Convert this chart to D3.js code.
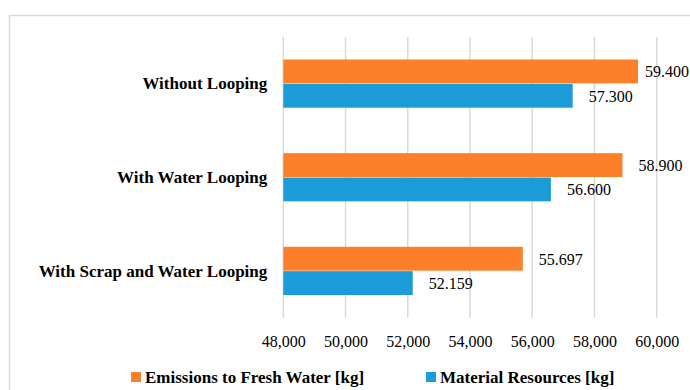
<!DOCTYPE html>
<html>
<head>
<meta charset="utf-8">
<script src="https://cdn.jsdelivr.net/npm/d3@7"></script>
<style>
  html, body { margin: 0; padding: 0; background: #fff; }
  svg { display: block; }
  text { font-family: "Liberation Serif", "Times New Roman", serif; fill: #000; }
</style>
</head>
<body>
<svg id="chart" width="690" height="390"></svg>
<script>
// Scenario categories (top to bottom)
const categories = ["Without Looping", "With Water Looping", "With Scrap and Water Looping"];
// Series names
const seriesNames = ["Emissions to Fresh Water [kg]", "Material Resources [kg]"];
// Values per category, one array per series
const emissionsFreshWater = [59400, 58900, 55697];
const materialResources = [57300, 56600, 52159];
// Axis ticks
const xTicks = [48000, 50000, 52000, 54000, 56000, 58000, 60000];
const colors = ["#fe7f2a", "#1b9bd7"];

const svg = d3.select("#chart");
const plot = { left: 283.3, right: 656.7, top: 37, bottom: 318 };

// Outer chart frame
svg.append("rect")
  .attr("x", 9.5).attr("y", 15.5)
  .attr("width", 720).attr("height", 420)
  .attr("fill", "none").attr("stroke", "#d9d9d9").attr("stroke-width", 1.5);

const x = d3.scaleLinear().domain([48000, 60000]).range([plot.left, plot.right]);
const y = d3.scaleBand().domain(categories).range([plot.top, plot.bottom]).paddingInner(0.48).paddingOuter(0.24);
const ySub = d3.scaleBand().domain(seriesNames).range([0, y.bandwidth()]);

// Vertical gridlines
svg.append("g").selectAll("line").data(xTicks).join("line")
  .attr("x1", d => x(d)).attr("x2", d => x(d))
  .attr("y1", plot.top).attr("y2", plot.bottom)
  .attr("stroke", "#d9d9d9").attr("stroke-width", 1.5);

// X axis tick labels
const xAxis = d3.axisBottom(x).tickValues(xTicks).tickSize(0).tickPadding(0)
  .tickFormat(d3.format(","));
const ax = svg.append("g").attr("transform", `translate(0,${plot.bottom})`).call(xAxis);
ax.select(".domain").remove();
ax.selectAll("text").attr("font-size", 16).attr("y", 29).attr("dy", 0)
  .attr("fill", "#000");

// Category labels
const yAxis = d3.axisLeft(y).tickSize(0).tickPadding(16);
const ay = svg.append("g").attr("transform", `translate(${plot.left},0)`).call(yAxis);
ay.select(".domain").remove();
ay.selectAll("text").attr("font-size", 17).attr("font-weight", "bold")
  .attr("fill", "#000");

const rows = categories.map((c, i) => ({
  cat: c,
  vals: [
    { s: seriesNames[0], v: emissionsFreshWater[i], c: colors[0] },
    { s: seriesNames[1], v: materialResources[i], c: colors[1] }
  ]
}));

// Values shown with a dot as thousands separator
const fmt = v => d3.format(",")(v).replace(",", ".");

const groups = svg.append("g").selectAll("g").data(rows).join("g")
  .attr("transform", d => `translate(0,${y(d.cat)})`);

groups.selectAll("rect").data(d => d.vals).join("rect")
  .attr("x", x(48000))
  .attr("y", d => ySub(d.s))
  .attr("width", d => x(d.v) - x(48000))
  .attr("height", ySub.bandwidth() - 0.5)
  .attr("fill", d => d.c);

// Value labels, kept inside the frame on the right
groups.selectAll("text.val").data(d => d.vals).join("text")
  .attr("class", "val")
  .attr("x", d => Math.min(x(d.v) + 16, 645))
  .attr("y", d => ySub(d.s) + ySub.bandwidth() / 2)
  .attr("dy", "0.35em")
  .attr("font-size", 16)
  .text(d => fmt(d.v));

// Legend
const legend = svg.append("g");
const legendItems = [
  { name: seriesNames[0], color: colors[0], x: 131 },
  { name: seriesNames[1], color: colors[1], x: 426 }
];
const li = legend.selectAll("g").data(legendItems).join("g")
  .attr("transform", d => `translate(${d.x},372)`);
li.append("rect").attr("width", 10).attr("height", 10).attr("fill", d => d.color);
li.append("text").attr("x", 14).attr("y", 5).attr("dy", "0.35em")
  .attr("font-size", 17).attr("font-weight", "bold").text(d => d.name);
</script>
</body>
</html>
